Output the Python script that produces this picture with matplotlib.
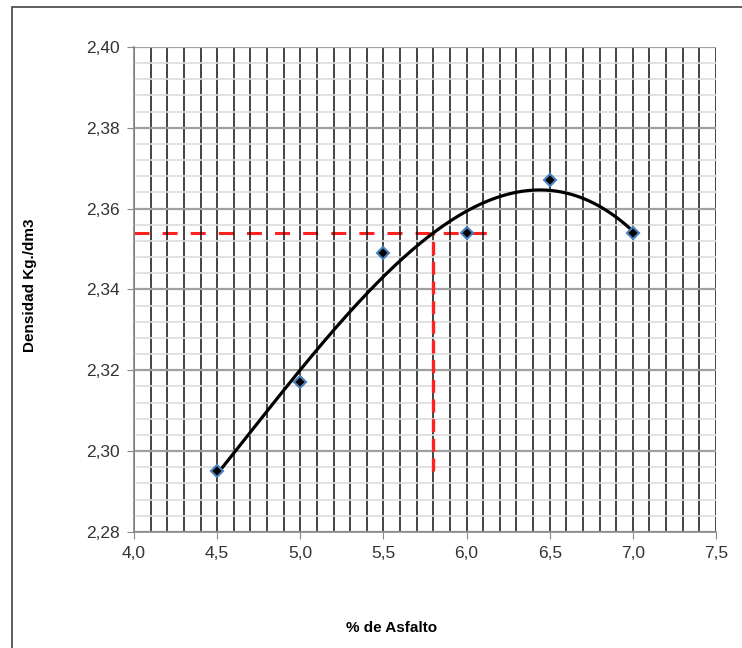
import numpy as np
import matplotlib
matplotlib.use("Agg")
import matplotlib.pyplot as plt
from matplotlib.ticker import MultipleLocator, FuncFormatter
from matplotlib.patches import Rectangle

asfalto = [4.5, 5.0, 5.5, 6.0, 6.5, 7.0]
densidad = [2.295, 2.317, 2.349, 2.354, 2.367, 2.354]
opt_x = 5.8
opt_y = 2.354
h_line_end = 6.17
v_line_bottom = 2.295

plt.rcParams['font.family'] = ['Liberation Sans', 'DejaVu Sans']

fig = plt.figure(figsize=(7.42, 6.48), dpi=100)
ax = fig.add_axes([134/742, 1-532/648, (716-134)/742, (532-47)/648])

# frame around the chart
fig.patches.append(Rectangle((12/742, -0.1), 1.2, 1-7/648+0.1, transform=fig.transFigure,
                             fill=False, edgecolor='#444444', linewidth=1.2))

ax.set_xlim(4.0, 7.5)
ax.set_ylim(2.28, 2.40)
ax.xaxis.set_major_locator(MultipleLocator(0.5))
ax.xaxis.set_minor_locator(MultipleLocator(0.1))
ax.yaxis.set_major_locator(MultipleLocator(0.02))
ax.yaxis.set_minor_locator(MultipleLocator(0.004))

ax.grid(which='minor', axis='y', color='#dddddd', linewidth=1.2)
ax.grid(which='major', axis='y', color='#a0a0a0', linewidth=1.6)
ax.grid(which='both', axis='x', color='#111111', linewidth=1.1)

fmt1 = FuncFormatter(lambda v, p: f"{v:.1f}".replace('.', ','))
fmt2 = FuncFormatter(lambda v, p: f"{v:.2f}".replace('.', ','))
ax.xaxis.set_major_formatter(fmt1)
ax.yaxis.set_major_formatter(fmt2)
ax.tick_params(which='minor', length=0)
ax.tick_params(which='major', length=5, color='#888888', labelsize=12.5, labelcolor='#333333', pad=5)

for s in ['top', 'right']:
    ax.spines[s].set_visible(False)
for s in ['left', 'bottom']:
    ax.spines[s].set_color('#888888')
    ax.spines[s].set_linewidth(1.2)

# trendline (polynomial fit)
coef = np.polyfit(asfalto, densidad, 3)
xs = np.linspace(min(asfalto), max(asfalto), 200)
ax.plot(xs, np.polyval(coef, xs), color='black', linewidth=2.3, zorder=3)

ax.plot(asfalto, densidad, linestyle='none', marker='D', markersize=6,
        markerfacecolor='black', markeredgecolor='#4a80c0', markeredgewidth=1.5, zorder=4)

ax.plot([4.0, h_line_end], [opt_y, opt_y], color='#ff2020', linestyle=(0, (4.9, 4.3)),
        linewidth=2.2, zorder=1)
ax.plot([opt_x, opt_x], [v_line_bottom, opt_y], color='#ff2020', linestyle=(0, (3.9, 2.0)),
        linewidth=2.4, zorder=2)

fig.text(30/742, 1-285/648, 'Densidad Kg./dm3', rotation=90, ha='center', va='center',
         fontsize=11, fontweight='bold', fontstretch='condensed')
fig.text(392/742, 1-628/648, '% de Asfalto', ha='center', va='center', fontsize=11, fontweight='bold')

fig.savefig('out.png', dpi=100)
